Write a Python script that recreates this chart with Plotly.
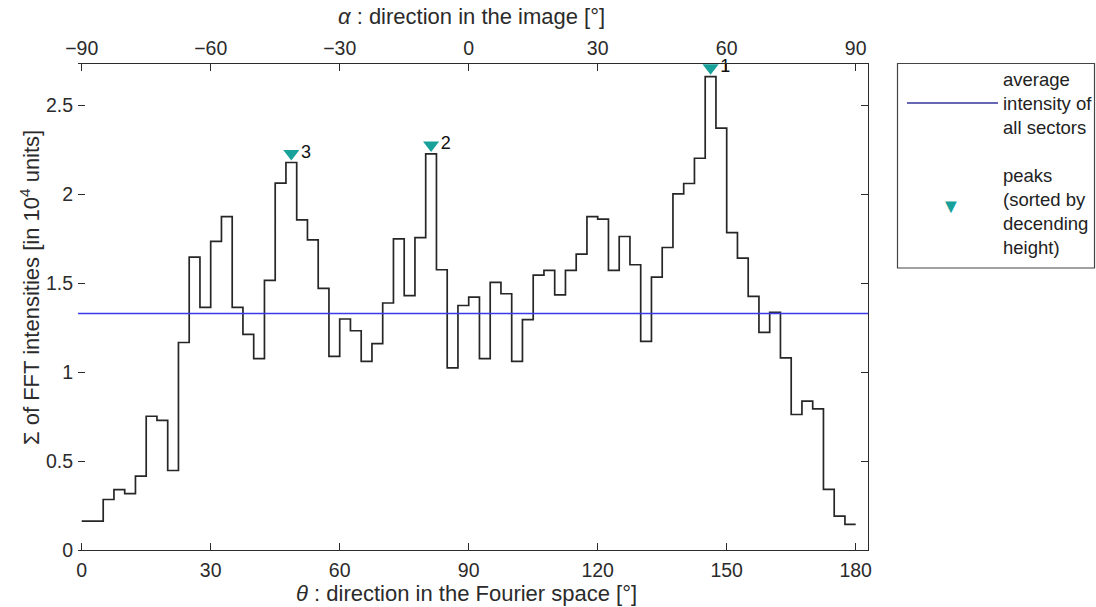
import numpy as np
import plotly.graph_objects as go

# Sector edges in the Fourier space (degrees) and summed FFT intensity per sector (10^4 units)
bin_width = 2.5
theta_edges = np.arange(0, 180 + bin_width, bin_width)
intensity = [
    0.162, 0.162, 0.284, 0.340, 0.317, 0.415, 0.752, 0.729, 0.447, 1.167,
    1.647, 1.364, 1.735, 1.875, 1.364, 1.212, 1.076, 1.516, 2.063, 2.179,
    1.857, 1.744, 1.471, 1.089, 1.299, 1.233, 1.061, 1.160, 1.389, 1.750,
    1.430, 1.757, 2.228, 1.576, 1.024, 1.375, 1.422, 1.076, 1.505, 1.441,
    1.061, 1.295, 1.546, 1.572, 1.435, 1.572, 1.664, 1.875, 1.861, 1.572,
    1.763, 1.604, 1.173, 1.535, 1.701, 2.003, 2.061, 2.203, 2.662, 2.372,
    1.785, 1.641, 1.426, 1.224, 1.336, 1.080, 0.762, 0.837, 0.794, 0.341,
    0.191, 0.144,
]
average_intensity = 1.33

# Detected peaks (sector index, rank by descending height)
peak_bins = [58, 32, 19]
peak_labels = ["1", "2", "3"]

x_ticks_theta = [0, 30, 60, 90, 120, 150, 180]
x_ticks_alpha = [-90, -60, -30, 0, 30, 60, 90]
y_ticks = [0, 0.5, 1, 1.5, 2, 2.5]
y_tick_text = ["0", "0.5", "1", "1.5", "2", "2.5"]

INK = "#2b2b2b"
FONT = "Liberation Sans, Arial, sans-serif"
TICK_SIZE = 19.5
TITLE_SIZE = 22
LEGEND_SIZE = 18.5
theta_range = [-0.86, 182.86]
y_range = [0, 2.733]

step_x = list(theta_edges[:-1]) + [theta_edges[-1]]
step_y = list(intensity) + [intensity[-1]]

peak_theta = [theta_edges[i] + bin_width / 2 for i in peak_bins]
peak_height = [intensity[i] for i in peak_bins]
marker_lift = 0.05

fig = go.Figure()

fig.add_trace(go.Scatter(
    x=step_x, y=step_y, mode="lines", line_shape="hv",
    line=dict(color="#262626", width=1.7), showlegend=False, hoverinfo="skip",
))

fig.add_trace(go.Scatter(
    x=theta_range, y=[average_intensity, average_intensity], mode="lines",
    line=dict(color="#3a3ae8", width=1.3), showlegend=False, hoverinfo="skip",
))

fig.add_trace(go.Scatter(
    x=peak_theta, y=[h + marker_lift for h in peak_height], mode="markers+text",
    marker=dict(symbol="triangle-down", size=14, color="#17a19a"),
    text=peak_labels, textposition="middle right",
    textfont=dict(family=FONT, size=18, color="#111111"),
    showlegend=False, hoverinfo="skip", cliponaxis=False,
))

# Helper traces so the top and right axes are drawn
fig.add_trace(go.Scatter(x=[0], y=[0], xaxis="x2", yaxis="y", mode="markers",
                         marker=dict(opacity=0), showlegend=False, hoverinfo="skip"))
fig.add_trace(go.Scatter(x=[0], y=[0], xaxis="x", yaxis="y2", mode="markers",
                         marker=dict(opacity=0), showlegend=False, hoverinfo="skip"))

axis_common = dict(
    ticks="inside", ticklen=7, tickcolor=INK, tickwidth=1,
    showgrid=False, zeroline=False,
    tickfont=dict(family=FONT, size=TICK_SIZE, color=INK),
)

fig.update_layout(
    width=1096, height=607,
    margin=dict(l=78, r=228, t=64, b=57),
    paper_bgcolor="white", plot_bgcolor="white",
    showlegend=False,
    xaxis=dict(
        range=theta_range, tickvals=x_ticks_theta, showline=True,
        linecolor=INK, linewidth=1.2, ticklabelstandoff=2, **axis_common,
    ),
    xaxis2=dict(
        overlaying="x", side="top",
        range=[theta_range[0] - 90, theta_range[1] - 90],
        tickvals=x_ticks_alpha, showline=True,
        linecolor=INK, linewidth=1.2, **axis_common,
    ),
    yaxis=dict(
        range=y_range, tickvals=y_ticks, ticktext=y_tick_text,
        showline=False, ticklabelstandoff=4, **axis_common,
    ),
    yaxis2=dict(
        overlaying="y", side="right", range=y_range, tickvals=y_ticks,
        showticklabels=False, showline=True, linecolor=INK, linewidth=1.2,
        ticks="inside", ticklen=7, tickcolor=INK, showgrid=False, zeroline=False,
    ),
)

plot_w = 1096 - 78 - 228
plot_h = 607 - 64 - 57


def px_x(px):
    return (px - 78) / plot_w


def px_y(py):
    return (607 - 57 - py) / plot_h


# Axis titles
fig.add_annotation(
    text="<i>θ</i> : direction in the Fourier space [°]",
    xref="paper", yref="paper", x=px_x(466), y=px_y(593),
    xanchor="center", yanchor="middle", showarrow=False,
    font=dict(family=FONT, size=TITLE_SIZE, color=INK),
)
fig.add_annotation(
    text="<i>α</i> : direction in the image [°]",
    xref="paper", yref="paper", x=px_x(471), y=px_y(17),
    xanchor="center", yanchor="middle", showarrow=False,
    font=dict(family=FONT, size=TITLE_SIZE, color=INK),
)
fig.add_annotation(
    text="Σ of FFT intensities [in 10<sup>4</sup> units]",
    xref="paper", yref="paper", x=px_x(30), y=px_y(288),
    xanchor="center", yanchor="middle", textangle=-90, showarrow=False,
    font=dict(family=FONT, size=TITLE_SIZE, color=INK),
)

# Legend box
fig.add_shape(type="rect", xref="paper", yref="paper",
              x0=px_x(897.5), x1=px_x(1094.5), y0=px_y(268), y1=px_y(63.5),
              line=dict(color="#444444", width=1.2), fillcolor="white")
fig.add_shape(type="line", xref="paper", yref="paper",
              x0=px_x(907), x1=px_x(998), y0=px_y(103), y1=px_y(103),
              line=dict(color="#34349a", width=1.3))
fig.add_annotation(
    text="average<br>intensity of<br>all sectors",
    xref="paper", yref="paper", x=px_x(1001), y=px_y(104),
    xanchor="left", yanchor="middle", align="left", showarrow=False,
    font=dict(family=FONT, size=LEGEND_SIZE, color="#222222"),
)
fig.add_annotation(
    text="▼", xref="paper", yref="paper", x=px_x(951), y=px_y(206),
    xanchor="center", yanchor="middle", showarrow=False,
    font=dict(family=FONT, size=20, color="#17a19a"),
)
fig.add_annotation(
    text="peaks<br>(sorted by<br>decending<br>height)",
    xref="paper", yref="paper", x=px_x(1001), y=px_y(211),
    xanchor="left", yanchor="middle", align="left", showarrow=False,
    font=dict(family=FONT, size=LEGEND_SIZE, color="#222222"),
)

fig.write_html("out.html")
